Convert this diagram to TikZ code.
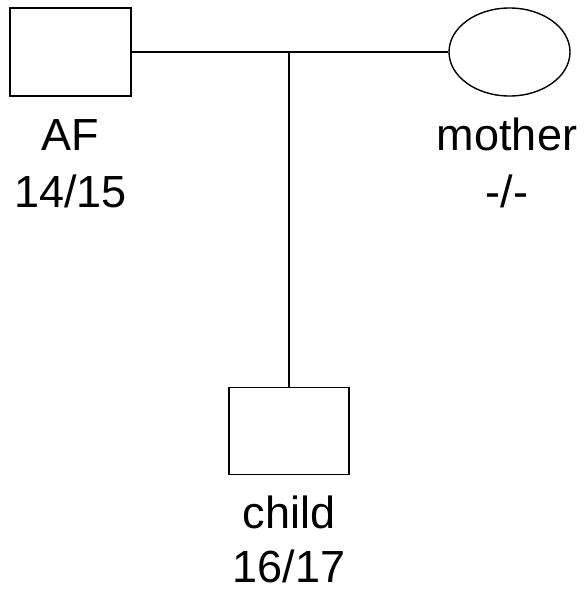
\documentclass[tikz,border=0pt]{standalone}
\usepackage{fontspec}
\setmainfont{Liberation Sans}
\usetikzlibrary{shapes.geometric}
\begin{document}
\begin{tikzpicture}[x=1pt,y=-1pt,
  line width=1.4pt,
  sym/.style={draw, line width=1.4pt, inner sep=0pt, minimum width=121pt, minimum height=88pt},
  lbl/.style={anchor=base, inner sep=0pt, font=\fontsize{45}{52}\selectfont}]
\useasboundingbox (0,0) rectangle (585,589);
\node[sym, rectangle] (af) at (70.5,52) {};
\node[sym, ellipse] (mo) at (509.5,52) {};
\node[sym, rectangle, minimum width=120pt, minimum height=87pt] (ch) at (289,431) {};
\coordinate (j) at (289,52);
\draw (af.east) -- (mo.west);
\draw (j) -- (ch.north);
\node[lbl] (afname) at (70.5,150) {AF};
\node[lbl] (afgen) at (70.5,207) {14/15};
\node[lbl] (moname) at (507,150) {mother};
\node[lbl] (mogen) at (507,207) {-/-};
\node[lbl] (chname) at (289,528) {child};
\node[lbl] (chgen) at (289,582) {16/17};
\end{tikzpicture}
\end{document}
